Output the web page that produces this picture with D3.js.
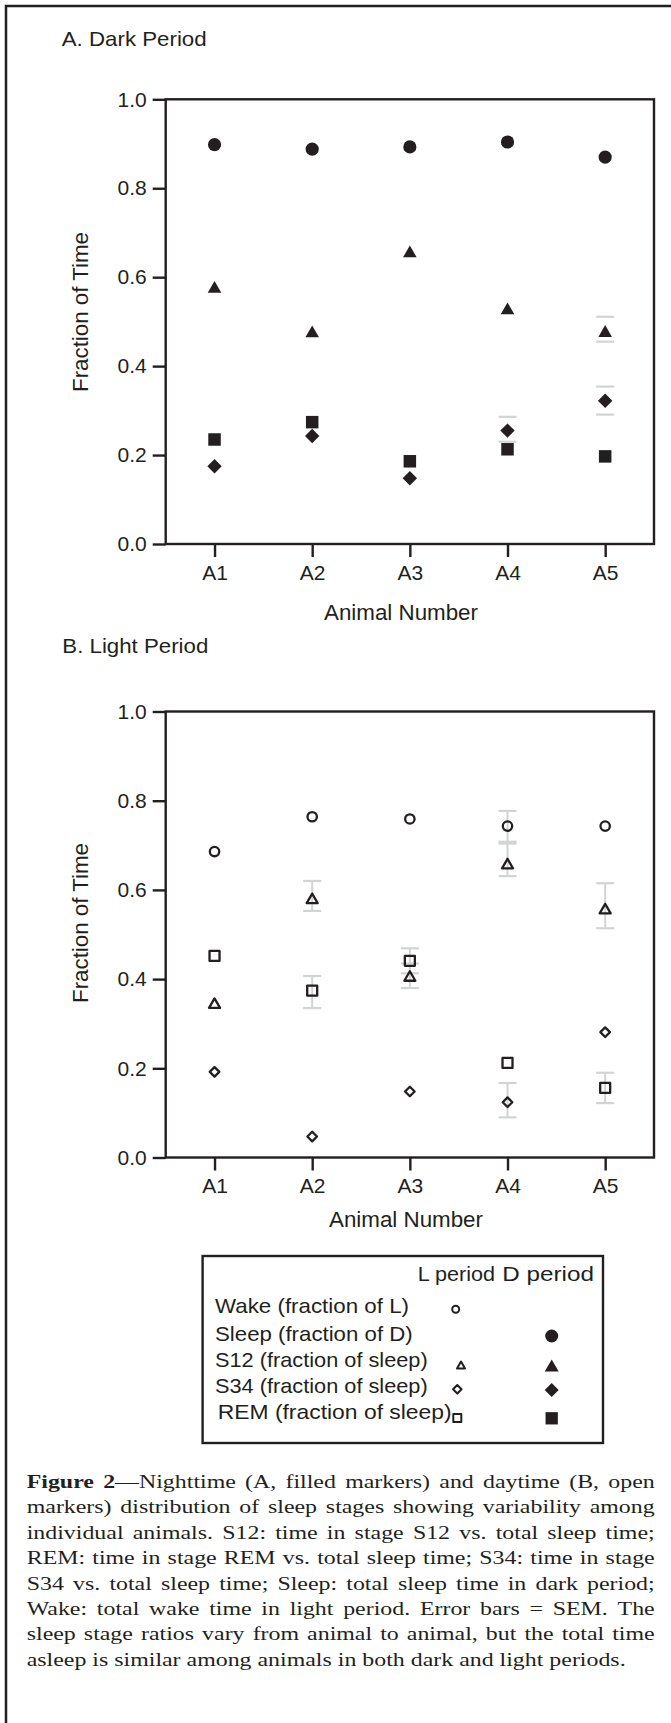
<!DOCTYPE html>
<html><head><meta charset="utf-8">
<script src="https://cdn.jsdelivr.net/npm/d3@7"></script>
<style>
html,body{margin:0;padding:0;background:#fff;}
svg{display:block;}
</style></head><body>
<svg id="fig" width="671" height="1723"></svg>
<script>
// ---------------- DATA ----------------
const animals = ["A1","A2","A3","A4","A5"];
const yTicks = [0, 0.2, 0.4, 0.6, 0.8, 1.0];

// A. Dark period (filled markers)
const darkSleep = [0.898, 0.888, 0.893, 0.904, 0.870];
const darkS12   = [0.578, 0.478, 0.658, 0.530, 0.479];
const darkS34   = [0.175, 0.243, 0.148, 0.255, 0.322];
const darkREM   = [0.235, 0.274, 0.186, 0.213, 0.197];
const darkSleepErr = [null, null, null, null, null];
const darkS12Err   = [null, null, null, null, [0.455, 0.511]];
const darkS34Err   = [null, null, null, [0.230, 0.286], [0.291, 0.354]];
const darkREMErr   = [null, null, null, null, null];

// B. Light period (open markers)
const lightWake = [0.686, 0.764, 0.759, 0.743, 0.743];
const lightS12  = [0.346, 0.581, 0.407, 0.659, 0.558];
const lightS34  = [0.192, 0.047, 0.148, 0.124, 0.281];
const lightREM  = [0.452, 0.374, 0.441, 0.212, 0.156];
const lightWakeErr = [null, null, null, [0.708, 0.777], null];
const lightS12Err  = [null, [0.553, 0.620], [0.380, 0.435], [0.631, 0.704], [0.514, 0.615]];
const lightS34Err  = [null, null, null, [0.090, 0.167], null];
const lightREMErr  = [null, [0.335, 0.407], [0.413, 0.469], null, [0.122, 0.190]];

const legendLabels = ["Wake (fraction of L)", "Sleep (fraction of D)", "S12 (fraction of sleep)", "S34 (fraction of sleep)", "REM (fraction of sleep)"];
const legendHeaders = ["L period", "D period"];

const captionBold = "Figure 2";
const captionLines = [
  "Figure 2\u2014Nighttime (A, filled markers) and daytime (B, open",
  "markers) distribution of sleep stages showing variability among",
  "individual animals. S12: time in stage S12 vs. total sleep time;",
  "REM: time in stage REM vs. total sleep time; S34: time in stage",
  "S34 vs. total sleep time; Sleep: total sleep time in dark period;",
  "Wake: total wake time in light period. Error bars = SEM. The",
  "sleep stage ratios vary from animal to animal, but the total time",
  "asleep is similar among animals in both dark and light periods."
];

// ---------------- STYLE / LAYOUT ----------------
const INK = "#231f20";
const GREY = "#d1d3d4";
const SANS = "'Liberation Sans', Arial, Helvetica, sans-serif";
const SERIF = "'Liberation Serif', 'Times New Roman', Times, serif";
const PL = 165.7, PR = 654;

const svg = d3.select("#fig");
svg.append("rect").attr("width",671).attr("height",1723).attr("fill","#fff");

// outer frame (top + left lines)
svg.append("path").attr("d","M6,1723 L6,6 L671,6").attr("fill","none")
  .attr("stroke",INK).attr("stroke-width",2.5);

// custom symbol types (size = characteristic length)
const symCircle = {draw(ctx, s){ const r = s/2; ctx.moveTo(r,0); ctx.arc(0,0,r,0,2*Math.PI); }};
const symSquare = {draw(ctx, s){ const h = s/2; ctx.rect(-h,-h,s,s); }};
const symDiamond = {draw(ctx, s){ const h = s/2; ctx.moveTo(0,-h); ctx.lineTo(h,0); ctx.lineTo(0,h); ctx.lineTo(-h,0); ctx.closePath(); }};
const symTriangle = {draw(ctx, s){ const w = s/2, hh = s*0.866/2; ctx.moveTo(0,-hh); ctx.lineTo(w,hh); ctx.lineTo(-w,hh); ctx.closePath(); }};

function drawPanel(cfg){
  const g = svg.append("g");
  const x = d3.scalePoint().domain(animals).range([PL, PR]).padding(0.5);
  const y = d3.scaleLinear().domain([0,1]).range([cfg.bottom, cfg.top]);

  // title
  g.append("text").attr("x",cfg.titleX).attr("y",cfg.titleY)
    .attr("font-family",SANS).attr("font-size",21).attr("fill",INK)
    .attr("textLength",cfg.titleW).attr("lengthAdjust","spacingAndGlyphs")
    .text(cfg.title);

  // axes
  const ya = g.append("g").attr("transform",`translate(${PL},0)`)
    .call(d3.axisLeft(y).tickValues(yTicks).tickFormat(d3.format(".1f"))
      .tickSize(13).tickSizeOuter(0).tickPadding(6));
  const xa = g.append("g").attr("transform",`translate(0,${cfg.bottom})`)
    .call(d3.axisBottom(x).tickSize(13).tickSizeOuter(0).tickPadding(8));
  [ya, xa].forEach(a => {
    a.select(".domain").remove();
    a.selectAll(".tick line").attr("stroke",INK).attr("stroke-width",2.4);
    a.selectAll(".tick text").attr("fill",INK).attr("font-family",SANS).attr("font-size",21);
  });

  // frame
  g.append("rect").attr("x",PL).attr("y",cfg.top).attr("width",PR-PL).attr("height",cfg.bottom-cfg.top)
    .attr("fill","none").attr("stroke",INK).attr("stroke-width",2.4);

  // axis labels
  g.append("text").attr("x",cfg.xlabX).attr("y",cfg.xlabY).attr("text-anchor","middle")
    .attr("font-family",SANS).attr("font-size",21.5).attr("fill",INK)
    .attr("textLength",154).attr("lengthAdjust","spacingAndGlyphs").text("Animal Number");
  g.append("text").attr("transform",`translate(87.5,${cfg.ylabY}) rotate(-90)`).attr("text-anchor","middle")
    .attr("font-family",SANS).attr("font-size",21.5).attr("fill",INK)
    .attr("textLength",160).attr("lengthAdjust","spacingAndGlyphs").text("Fraction of Time");

  // error bars
  const eg = g.append("g");
  cfg.series.forEach(s => {
    s.err.forEach((e,i) => {
      if (!e) return;
      const cx = x(animals[i]);
      if (cfg.vertical) {
        eg.append("line").attr("x1",cx).attr("x2",cx).attr("y1",y(e[0])).attr("y2",y(e[1]))
          .attr("stroke",GREY).attr("stroke-width",2);
      }
      e.forEach(v => {
        eg.append("line").attr("x1",cx-9).attr("x2",cx+9).attr("y1",y(v)).attr("y2",y(v))
          .attr("stroke",GREY).attr("stroke-width",2.2);
      });
    });
  });

  // markers
  cfg.series.forEach(s => {
    g.append("g").selectAll("path").data(s.values).join("path")
      .attr("transform",(d,i) => `translate(${x(animals[i])},${y(d)})`)
      .attr("d", d3.symbol().type(s.type).size(s.size))
      .attr("fill", cfg.filled ? INK : "none")
      .attr("stroke", cfg.filled ? "none" : INK)
      .attr("stroke-width", cfg.filled ? 0 : 2.3)
      .attr("stroke-linejoin", "round");
  });
}

drawPanel({
  title:"A. Dark Period", titleX:61.7, titleY:46, titleW:145,
  top:99.3, bottom:544, xlabX:401, xlabY:619.5, ylabY:312,
  filled:true, vertical:false,
  series:[
    {values:darkSleep, err:darkSleepErr, type:symCircle, size:13.2},
    {values:darkS12, err:darkS12Err, type:symTriangle, size:13.6},
    {values:darkS34, err:darkS34Err, type:symDiamond, size:14.4},
    {values:darkREM, err:darkREMErr, type:symSquare, size:12.5}
  ]
});

drawPanel({
  title:"B. Light Period", titleX:62.3, titleY:652.7, titleW:146,
  top:711.5, bottom:1157.5, xlabX:406, xlabY:1227, ylabY:923,
  filled:false, vertical:true,
  series:[
    {values:lightWake, err:lightWakeErr, type:symCircle, size:9.4},
    {values:lightS12, err:lightS12Err, type:symTriangle, size:11},
    {values:lightS34, err:lightS34Err, type:symDiamond, size:9.6},
    {values:lightREM, err:lightREMErr, type:symSquare, size:10}
  ]
});

// ---------------- LEGEND ----------------
const lg = svg.append("g");
lg.append("rect").attr("x",202.6).attr("y",1256).attr("width",400.4).attr("height",187)
  .attr("fill","none").attr("stroke",INK).attr("stroke-width",2.4);
[[legendHeaders[0],417.7,77.3],[legendHeaders[1],502.3,91.7]].forEach(h => {
  lg.append("text").attr("x",h[1]).attr("y",1280.7).attr("font-family",SANS).attr("font-size",21)
    .attr("fill",INK).attr("textLength",h[2]).attr("lengthAdjust","spacingAndGlyphs").text(h[0]);
});
const legRows = [
  {x:215,   y:1313.3, w:194,   L:{type:symCircle, size:7, cx:455.7, cy:1309.3}, D:null},
  {x:215,   y:1340.7, w:197.7, L:null, D:{type:symCircle, size:13, cx:551.7, cy:1336}},
  {x:215,   y:1366.7, w:212.7, L:{type:symTriangle, size:8, cx:461, cy:1365}, D:{type:symTriangle, size:14, cx:551.7, cy:1365.5}},
  {x:215,   y:1393.3, w:212.7, L:{type:symDiamond, size:8.5, cx:457.3, cy:1389.3}, D:{type:symDiamond, size:14, cx:551.7, cy:1390}},
  {x:217.7, y:1419.3, w:234,   L:{type:symSquare, size:8, cx:457.3, cy:1418}, D:{type:symSquare, size:12.3, cx:551.7, cy:1418.3}}
];
legRows.forEach((r,i) => {
  lg.append("text").attr("x",r.x).attr("y",r.y).attr("font-family",SANS).attr("font-size",21)
    .attr("fill",INK).attr("textLength",r.w).attr("lengthAdjust","spacingAndGlyphs").text(legendLabels[i]);
  if (r.L) lg.append("path").attr("transform",`translate(${r.L.cx},${r.L.cy})`)
    .attr("d",d3.symbol().type(r.L.type).size(r.L.size)).attr("fill","none")
    .attr("stroke",INK).attr("stroke-width",2).attr("stroke-linejoin","round");
  if (r.D) lg.append("path").attr("transform",`translate(${r.D.cx},${r.D.cy})`)
    .attr("d",d3.symbol().type(r.D.type).size(r.D.size)).attr("fill",INK);
});

// ---------------- CAPTION (justified) ----------------
const capX = 26.7, capW = 628, capLastW = 599, capFont = 19, capY0 = 1488, capDY = 25.4;
const meas = svg.append("g").attr("visibility","hidden");
function wordSegs(word, offset, lineIdx){
  if (lineIdx !== 0) return [{t:word, b:false}];
  const segs = [];
  const nb = Math.max(0, Math.min(word.length, captionBold.length - offset));
  if (nb > 0) segs.push({t:word.slice(0,nb), b:true});
  if (nb < word.length) segs.push({t:word.slice(nb), b:false});
  return segs;
}
function fillText(t, segs){
  segs.forEach(s => t.append("tspan").attr("font-weight", s.b ? "bold" : "normal").text(s.t));
}
function measureSegs(segs){
  const t = meas.append("text").attr("font-family",SERIF).attr("font-size",capFont);
  fillText(t, segs);
  const w = t.node().getComputedTextLength();
  t.remove();
  return w;
}
const lastNatural = measureSegs([{t:captionLines[captionLines.length-1], b:false}]);
const sx = capLastW / lastNatural;
captionLines.forEach((line, li) => {
  const g = svg.append("g").attr("transform",`translate(${capX},${capY0 + li*capDY}) scale(${sx},1)`);
  if (li === captionLines.length - 1) {
    const t = g.append("text").attr("font-family",SERIF).attr("font-size",capFont).attr("fill",INK);
    fillText(t, [{t:line, b:false}]);
    return;
  }
  const words = line.split(" ");
  let off = 0;
  const items = words.map(w => { const segs = wordSegs(w, off, li); off += w.length + 1; return {segs, w: measureSegs(segs)}; });
  const total = d3.sum(items, d => d.w);
  const gap = (capW / sx - total) / (items.length - 1);
  let cx = 0;
  items.forEach(it => {
    const t = g.append("text").attr("x",cx).attr("font-family",SERIF).attr("font-size",capFont).attr("fill",INK);
    fillText(t, it.segs);
    cx += it.w + gap;
  });
});
meas.remove();
</script>
</body></html>
